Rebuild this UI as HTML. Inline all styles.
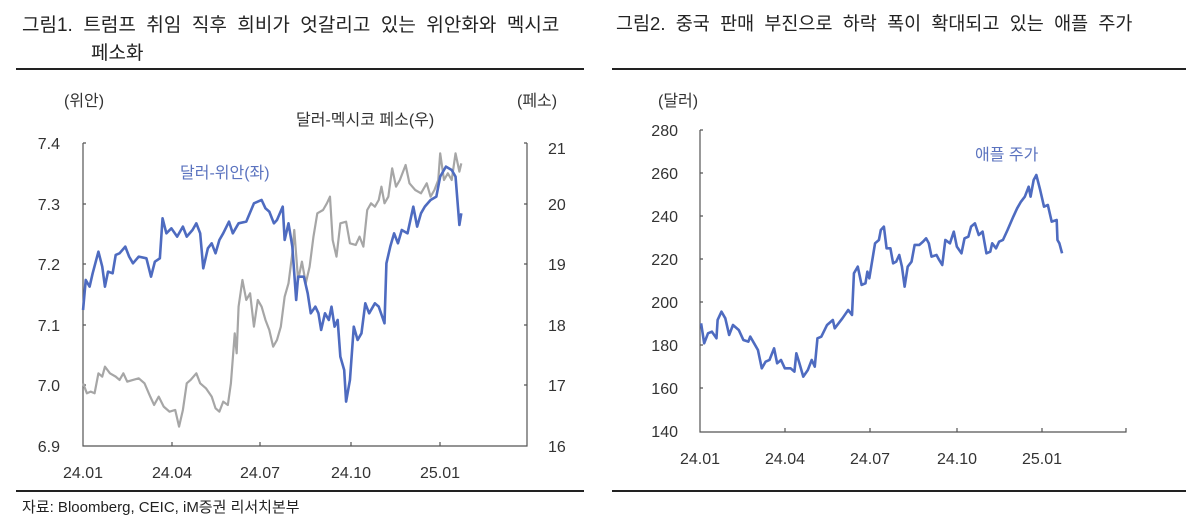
<!DOCTYPE html>
<html><head><meta charset="utf-8"><style>
body{margin:0;width:1200px;height:525px;background:#fff;overflow:hidden;font-family:"Liberation Sans","Noto Sans CJK KR",sans-serif;color:#222}
.t{position:absolute;font-size:17px;white-space:nowrap}
</style></head><body>
<div class="t" style="left:22px;top:10px;font-size:19px">그림1.&nbsp;&nbsp;트럼프&nbsp; 취임&nbsp; 직후&nbsp; 희비가&nbsp; 엇갈리고&nbsp; 있는&nbsp; 위안화와&nbsp; 멕시코</div>
<div class="t" style="left:91px;top:38px;font-size:19px">페소화</div>
<div class="t" style="left:616px;top:10px;font-size:18.5px">그림2.&nbsp;&nbsp;중국&nbsp; 판매&nbsp; 부진으로&nbsp; 하락&nbsp; 폭이&nbsp; 확대되고&nbsp; 있는&nbsp; 애플&nbsp; 주가</div>
<div style="position:absolute;left:16px;top:68px;width:568px;height:2px;background:#222"></div>
<div style="position:absolute;left:612px;top:68px;width:574px;height:2px;background:#222"></div>
<div style="position:absolute;left:16px;top:490px;width:568px;height:2px;background:#222"></div>
<div style="position:absolute;left:612px;top:490px;width:574px;height:2px;background:#222"></div>
<div class="t" style="left:22px;top:496px;font-size:15px">자료: Bloomberg, CEIC, iM증권 리서치본부</div>
<svg width="1200" height="525" style="position:absolute;left:0;top:0" font-family="Liberation Sans, Noto Sans CJK KR, sans-serif" font-size="16" fill="#333">
<g stroke="#555" stroke-width="1.2" fill="none">
<path d="M83 143V446H527V143M83 143h3M83 204h3M83 264h3M83 325h3M83 385h3M527 204h-3M527 264h-3M527 325h-3M527 385h-3M527 143h-3M172 446v-4M260 446v-4M351 446v-4M440 446v-4"/>
<path d="M700 130V432H1126v-4M700 130h3M700 173h3M700 216h3M700 259h3M700 302h3M700 345h3M700 388h3M785 432v-4M870 432v-4M957 432v-4M1042 432v-4"/>
</g>
<g text-anchor="end"><text x="60" y="149">7.4</text><text x="60" y="210">7.3</text><text x="60" y="270">7.2</text><text x="60" y="331">7.1</text><text x="60" y="391">7.0</text><text x="60" y="452">6.9</text>
<text x="678" y="136">280</text><text x="678" y="179">260</text><text x="678" y="222">240</text><text x="678" y="265">220</text><text x="678" y="308">200</text><text x="678" y="351">180</text><text x="678" y="394">160</text><text x="678" y="437">140</text></g>
<g><text x="548" y="154">21</text><text x="548" y="210">20</text><text x="548" y="270">19</text><text x="548" y="331">18</text><text x="548" y="391">17</text><text x="548" y="452">16</text></g>
<g text-anchor="middle"><text x="83" y="478">24.01</text><text x="172" y="478">24.04</text><text x="260" y="478">24.07</text><text x="351" y="478">24.10</text><text x="440" y="478">25.01</text>
<text x="700" y="464">24.01</text><text x="785" y="464">24.04</text><text x="870" y="464">24.07</text><text x="957" y="464">24.10</text><text x="1042" y="464">25.01</text></g>
<text x="64" y="106">(위안)</text><text x="517" y="106">(페소)</text><text x="296" y="125">달러-멕시코 페소(우)</text><text x="180" y="178" fill="#5b73bf">달러-위안(좌)</text>
<text x="658" y="106">(달러)</text><text x="975" y="160" fill="#5b73bf">애플 주가</text>
<g transform="translate(0.5,80) scale(0.384,0.3333)" fill="none" stroke-linejoin="round">
<polyline vector-effect="non-scaling-stroke" stroke="#a6a6a6" stroke-width="2.2" points="215,910 225,940 235,935 245,940 255,880 265,890 272,860 285,880 300,890 310,900 320,880 330,905 345,900 360,895 375,910 390,950 400,975 412,950 425,980 440,995 455,990 465,1040 475,990 485,910 495,900 510,880 520,910 535,925 550,950 560,985 570,995 580,965 592,975 600,910 610,760 615,820 620,680 630,600 640,660 650,640 660,740 670,660 680,680 690,720 700,750 710,800 720,780 730,740 740,650 750,610 760,520 765,450 775,600 785,545 795,610 805,560 815,470 825,400 840,390 850,370 858,350 865,480 875,530 885,430 900,425 910,490 925,495 935,470 945,500 955,390 965,370 975,380 985,360 992,320 1000,370 1010,350 1020,265 1030,320 1040,300 1055,255 1065,310 1080,330 1095,340 1110,310 1120,350 1130,330 1140,300 1145,220 1155,300 1165,280 1175,300 1185,220 1195,275 1200,250"/>
<polyline vector-effect="non-scaling-stroke" stroke="#4e6bc0" stroke-width="2.6" points="215,690 222,600 232,620 240,580 255,515 265,560 272,620 280,575 292,580 300,525 310,520 325,500 335,530 345,550 360,530 380,535 392,590 402,545 415,535 422,415 432,460 445,445 460,470 475,440 485,470 500,450 510,430 520,460 528,565 540,505 550,490 560,520 570,480 580,460 595,425 605,460 620,430 640,425 660,370 680,360 690,385 700,395 712,430 720,420 735,380 740,480 750,430 760,500 770,660 775,590 790,590 800,640 808,700 820,680 828,700 835,750 845,700 855,720 862,680 870,740 878,720 885,830 895,870 900,965 910,900 920,740 930,780 940,760 950,670 960,700 975,670 985,680 1000,730 1005,550 1015,500 1025,460 1035,490 1045,450 1060,460 1075,380 1085,440 1095,400 1105,380 1120,360 1135,350 1145,290 1160,260 1175,270 1185,290 1195,435 1200,400"/>
</g>
<g transform="translate(600.5,80) scale(0.384,0.3333)" fill="none" stroke-linejoin="round">
<polyline vector-effect="non-scaling-stroke" stroke="#4e6bc0" stroke-width="2.6" points="262,730 270,790 280,760 290,755 302,775 305,720 315,695 325,715 335,765 345,735 360,750 372,780 385,785 390,770 400,790 410,810 420,865 430,845 440,840 452,805 460,850 470,840 480,865 495,865 505,875 510,820 518,850 528,890 540,870 550,840 558,860 565,775 575,770 590,735 605,720 610,745 620,730 630,715 645,690 655,705 660,580 670,560 680,615 690,610 695,575 700,595 715,490 725,480 730,450 738,440 745,505 755,505 762,550 770,545 778,525 785,560 792,620 800,560 810,545 818,495 830,495 840,485 848,475 855,490 862,530 875,525 882,540 890,555 898,480 910,490 920,455 928,500 940,520 948,475 958,470 965,440 975,430 985,465 995,455 1005,520 1015,515 1020,490 1030,505 1038,485 1048,480 1060,450 1075,410 1085,385 1095,365 1105,350 1115,320 1120,350 1128,300 1135,285 1145,330 1155,380 1165,375 1175,425 1188,420 1190,480 1195,490 1202,520"/>
</g>
</svg>
</body></html>
